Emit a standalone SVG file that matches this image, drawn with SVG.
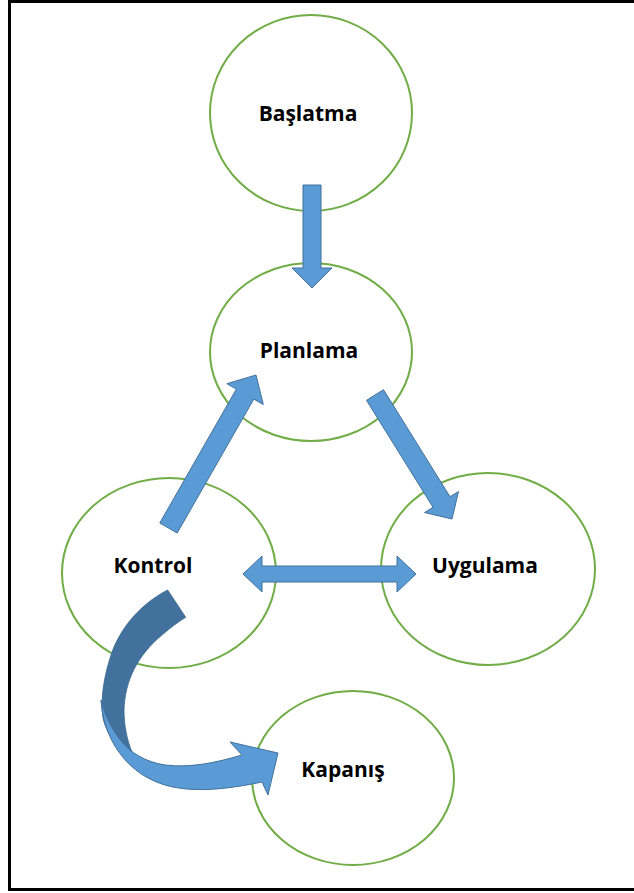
<svg xmlns="http://www.w3.org/2000/svg" width="634" height="893" viewBox="0 0 634 893">
<style>
.node ellipse{fill:#fff;stroke:#70AD47;stroke-width:2}
.node text{font-family:"Open Sans","Liberation Sans",sans-serif;font-weight:bold;font-size:21px;fill:#000;text-anchor:middle}
.arr{fill:#5B9BD5;stroke:#41719C;stroke-width:1;stroke-linejoin:miter}
.dark{fill:#41719C;stroke:#3A6890;stroke-width:0.8}
</style>
<rect x="0" y="0" width="634" height="893" fill="#fff"/>
<rect x="9.5" y="1.5" width="627" height="888" fill="none" stroke="#000" stroke-width="3"/>
<g id="n-baslatma" class="node"><ellipse cx="311" cy="113" rx="101" ry="98"/><text x="308" y="121">Başlatma</text></g>
<g id="n-planlama" class="node"><ellipse cx="311" cy="352" rx="101" ry="89"/><text x="309" y="358">Planlama</text></g>
<g id="n-kontrol" class="node"><ellipse cx="169" cy="573" rx="107" ry="95"/><text x="153" y="573">Kontrol</text></g>
<g id="n-uygulama" class="node"><ellipse cx="488" cy="569" rx="107" ry="96"/><text x="485" y="573">Uygulama</text></g>
<g id="n-kapanis" class="node"><ellipse cx="353" cy="778" rx="101" ry="87"/><text x="343" y="777">Kapanış</text></g>
<g id="connectors">
<polygon class="arr" points="303,185 321,185 321,268 332,268 312,288 292,268 303,268"/>
<polygon class="arr" points="159.8,523 236.4,389.1 226.9,383.7 256,375 263.3,404.5 253.8,399.1 177.2,533"/>
<polygon class="arr" points="383.5,389.7 450,496.7 458.5,491.5 452,519 424.5,512.5 433,507.3 366.5,400.3"/>
<polygon class="arr" points="243,574 262,556 262,566 397,566 397,556 416,574 397,592 397,582 262,582 262,592"/>
<path class="dark" d="M167.7,590 C148,600 124,620 112,652 C104,675 100,700 103,718 C106,732 114,742 124,750 L132,752 C127,740 124,725 124,710 C125,680 138,655 162,635 C170,628 178,622 185.7,617.3 Z"/>
<path class="arr" d="M101,700 C103,735 122,765 150,779 C175,792 210,793 262,782 L268,795 L278,753 L230,742 L242,755 C215,763 190,768 165,765 C145,762 130,752 122,742 C114,732 106,720 101,700 Z"/>
</g>
</svg>
